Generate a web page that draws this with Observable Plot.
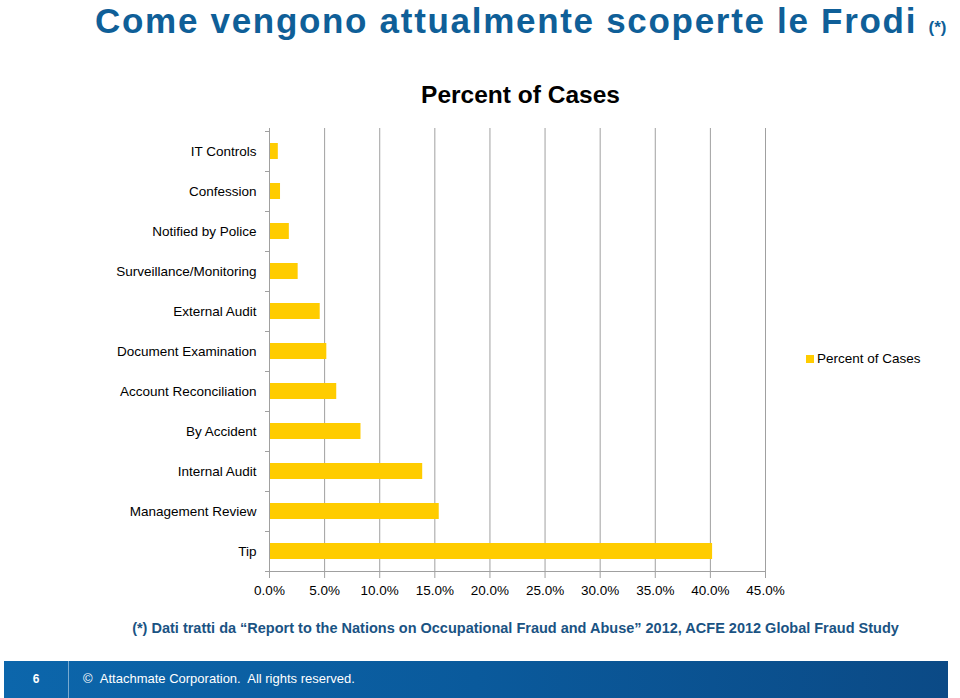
<!DOCTYPE html>
<html>
<head>
<meta charset="utf-8">
<script src="https://cdn.jsdelivr.net/npm/d3@7"></script>
<script src="https://cdn.jsdelivr.net/npm/@observablehq/plot@0.6"></script>
<style>
  html, body { margin: 0; padding: 0; background: #fff; }
  body { width: 960px; height: 698px; position: relative; overflow: hidden; font-family: "Liberation Sans", Arial, sans-serif; }
  #title { position: absolute; left: 95px; top: 1px; line-height: normal; font-size: 35px; font-weight: bold; color: #0f5f98; letter-spacing: 1.7px; white-space: nowrap; }
  #title small { font-size: 17px; letter-spacing: 0; font-weight: bold; }
  #chart { position: absolute; left: 0; top: 0; }
  #ctitle { position: absolute; left: 0; width: 1041px; top: 81px; text-align: center; font-size: 24.5px; font-weight: bold; color: #000; }
  #legend { position: absolute; left: 806px; top: 351px; font-size: 13.5px; color: #000; white-space: nowrap; }
  #legend span.sw { display: inline-block; width: 8px; height: 8px; background: #ffcc00; margin-right: 3px; vertical-align: 0px; }
  #caption { position: absolute; left: 0; width: 1031px; top: 620px; text-align: center; font-size: 14.5px; font-weight: bold; color: #1a5383; white-space: nowrap; }
  #footer { position: absolute; left: 4px; top: 661px; width: 944px; height: 37px; background: linear-gradient(to right, #0c66ab, #0a5a9c 50%, #0b4a86); color: #fff; }
  #footer .num { position: absolute; left: 0; width: 64px; top: 11px; text-align: center; font-size: 12px; font-weight: bold; }
  #footer .sep { position: absolute; left: 64px; top: 0; width: 1px; height: 37px; background: rgba(255,255,255,0.45); }
  #footer .copy { position: absolute; left: 79px; top: 10px; font-size: 13px; white-space: nowrap; }
</style>
</head>
<body>
<div id="title">Come vengono attualmente scoperte le Frodi <small>(*)</small></div>
<div id="ctitle">Percent of Cases</div>
<div id="chart"></div>
<div id="legend"><span class="sw"></span>Percent of Cases</div>
<div id="caption">(*) Dati tratti da “Report to the Nations on Occupational Fraud and Abuse” 2012, ACFE 2012 Global Fraud Study</div>
<div id="footer"><div class="num">6</div><div class="sep"></div><div class="copy">©&nbsp;&nbsp;Attachmate Corporation.&nbsp; All rights reserved.</div></div>
<script>
const categories = ["IT Controls", "Confession", "Notified by Police", "Surveillance/Monitoring", "External Audit", "Document Examination", "Account Reconciliation", "By Accident", "Internal Audit", "Management Review", "Tip"];
const values = [0.8, 1.0, 1.8, 2.6, 4.6, 5.2, 6.1, 8.3, 13.9, 15.4, 40.2];
const xTicks = [0, 5, 10, 15, 20, 25, 30, 35, 40, 45];

const data = categories.map((c, i) => ({cat: c, value: values[i]}));
const gray = "#a0a0a0";

const plot = Plot.plot({
  width: 960,
  height: 600,
  marginLeft: 269,
  marginRight: 195,
  marginTop: 128,
  marginBottom: 27,
  style: {fontFamily: '"Liberation Sans", Arial, sans-serif', background: "transparent", color: "#000"},
  x: {domain: [0, 45]},
  y: {domain: categories, paddingInner: 0.6, paddingOuter: 0.3},
  marks: [
    Plot.gridX(xTicks, {stroke: gray, strokeOpacity: 1}),
    Plot.barX(data, {x: "value", y: "cat", fill: "#ffcc00"}),
    Plot.ruleX([0], {stroke: gray}),
    Plot.axisX(xTicks, {tickFormat: d => d.toFixed(1) + "%", tickSize: 5, tickPadding: 7, fontSize: 13.5, stroke: gray, fill: "#000", label: null}),
    Plot.axisY({tickSize: 0, tickPadding: 13, fontSize: 13.5, fill: "#000", label: null})
  ]
});
document.getElementById("chart").appendChild(plot);

// band-boundary ticks on the y axis and the x baseline, from Plot's own scales
const ys = plot.scale("y");
const xs = plot.scale("x");
const y0 = ys.apply(categories[0]);
const step = ys.apply(categories[1]) - y0;
const bw = ys.bandwidth;
const first = y0 - (step - bw) / 2;
const svg = d3.select(plot);
const g = svg.append("g").attr("stroke", gray).attr("stroke-width", 1);
const x0 = xs.apply(0);
for (let i = 0; i <= categories.length; i++) {
  const yy = Math.round(first + i * step) + 0.5;
  g.append("line").attr("x1", x0 - 4).attr("x2", x0).attr("y1", yy).attr("y2", yy);
}
const yb = Math.round(first + categories.length * step) + 0.5;
g.append("line").attr("x1", x0).attr("x2", xs.apply(45)).attr("y1", yb).attr("y2", yb);
</script>
</body>
</html>
